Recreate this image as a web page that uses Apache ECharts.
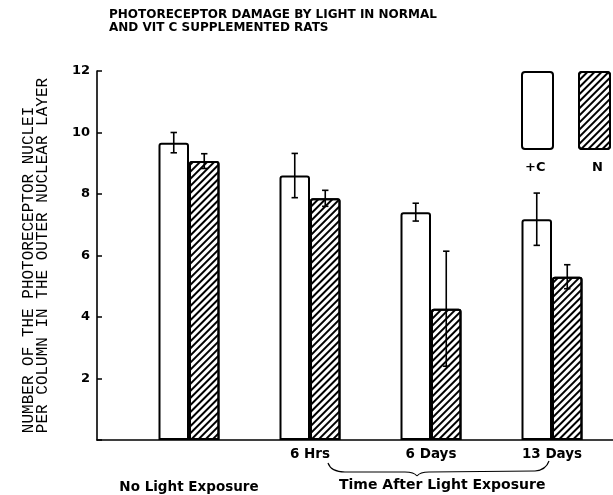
<!DOCTYPE html>
<html>
<head>
<meta charset="utf-8">
<script src="https://cdn.jsdelivr.net/npm/echarts@6/dist/echarts.min.js"></script>
<style>html,body{margin:0;padding:0;background:#fff;}#c{width:613px;height:495px;}</style>
</head>
<body>
<div id="c"></div>
<script>
const categories = ['No Light Exposure', '6 Hrs', '6 Days', '13 Days'];
const vitCMean = [9.67, 8.6, 7.41, 7.18];
const vitCErr = [0.33, 0.72, 0.29, 0.85];
const normalMean = [9.07, 7.86, 4.27, 5.31];
const normalErr = [0.24, 0.26, 1.87, 0.39];
const yTicks = [0, 2, 4, 6, 8, 10, 12];

const BAR_W = 30.5;
const FONT = 'DejaVu Sans';

const chart = echarts.init(document.getElementById('c'));

function errData(mean, err) {
  return mean.map((m, i) => [i, m - err[i], m + err[i]]);
}
function errSeries(mean, err, side) {
  return {
    type: 'custom',
    xAxisIndex: 1, yAxisIndex: 1,
    z: 5,
    silent: true,
    data: errData(mean, err),
    renderItem: function (params, api) {
      const base = api.coord([api.value(0), 0]);
      const x = base[0] + side * BAR_W / 2;
      const yl = api.coord([api.value(0), api.value(1)])[1];
      const yh = api.coord([api.value(0), api.value(2)])[1];
      const cap = 3.2;
      const st = { stroke: '#000', lineWidth: 1.6 };
      return {
        type: 'group',
        children: [
          { type: 'line', shape: { x1: x, y1: yl, x2: x, y2: yh }, style: st },
          { type: 'line', shape: { x1: x - cap, y1: yl, x2: x + cap, y2: yl }, style: st },
          { type: 'line', shape: { x1: x - cap, y1: yh, x2: x + cap, y2: yh }, style: st }
        ]
      };
    }
  };
}

const hatch = {
  symbol: 'rect',
  symbolSize: 1,
  color: '#000',
  dashArrayX: [1, 0],
  dashArrayY: [1.4, 2.2],
  rotation: -Math.PI / 4
};

const braceStyle = { stroke: '#000', lineWidth: 1.2, fill: null };
function curve(x1, y1, cx, cy, x2, y2) {
  return { type: 'bezierCurve', silent: true, shape: { x1: x1, y1: y1, cpx1: cx, cpy1: cy, x2: x2, y2: y2 }, style: braceStyle };
}
function seg(x1, y1, x2, y2) {
  return { type: 'line', silent: true, shape: { x1: x1, y1: y1, x2: x2, y2: y2 }, style: braceStyle };
}

const option = {
  backgroundColor: '#fff',
  animation: false,
  title: {
    text: 'PHOTORECEPTOR DAMAGE BY LIGHT IN NORMAL\nAND VIT C SUPPLEMENTED RATS',
    left: 109, top: 8, padding: 0,
    textStyle: { fontFamily: FONT, fontSize: 12, fontWeight: 'bold', color: '#000', lineHeight: 13 }
  },
  legend: {
    left: 521, top: 71, padding: 0,
    itemWidth: 31, itemHeight: 77, itemGap: 24,
    icon: 'path://M3,0 L28,0 Q31,0 31,3 L31,74 Q31,77 28,77 L3,77 Q0,77 0,74 L0,3 Q0,0 3,0 Z',
    formatter: function () { return ''; },
    selectedMode: false,
    data: [
      { name: '+C', itemStyle: { color: '#fff', borderColor: '#000', borderWidth: 2 } },
      { name: 'N', itemStyle: { color: '#fff', borderColor: '#000', borderWidth: 2, decal: hatch } }
    ]
  },
  grid: [
    { left: 97, right: 0, top: 71, bottom: 55 },
    { left: 128.5, width: 484, top: 71, bottom: 55 }
  ],
  xAxis: [
    {
      gridIndex: 0, type: 'value', min: 0, max: 1,
      axisLine: { show: true, lineStyle: { color: '#000', width: 1.6 } },
      axisTick: { show: false }, axisLabel: { show: false }, splitLine: { show: false }
    },
    {
      gridIndex: 1, type: 'category', data: categories,
      axisLine: { show: false }, axisTick: { show: false },
      axisLabel: {
        interval: 0, hideOverlap: false,
        margin: 7,
        fontFamily: FONT, fontSize: 13.5, fontWeight: 'bold', color: '#000',
        formatter: function (v, i) { return i === 0 ? '{low|' + v + '}' : v; },
        rich: { low: { padding: [33, 0, 0, 0], fontFamily: FONT, fontSize: 13.5, fontWeight: 'bold', color: '#000' } }
      }
    }
  ],
  yAxis: [
    {
      gridIndex: 0, type: 'value', min: yTicks[0], max: yTicks[yTicks.length - 1], interval: 2,
      axisLine: { show: true, lineStyle: { color: '#000', width: 1.6 } },
      axisTick: { show: true, inside: true, length: 5, lineStyle: { color: '#000', width: 1.5 } },
      splitLine: { show: false },
      axisLabel: {
        margin: 7, fontFamily: FONT, fontSize: 13, fontWeight: 'bold', color: '#000',
        formatter: function (v) { return v === 0 ? '' : String(v); }
      },
      name: 'NUMBER OF THE PHOTORECEPTOR NUCLEI   \nPER COLUMN IN THE OUTER NUCLEAR LAYER',
      nameLocation: 'middle', nameRotate: 90, nameGap: 47,
      nameTextStyle: { fontFamily: 'Liberation Mono', fontSize: 16, color: '#000', lineHeight: 14 }
    },
    {
      gridIndex: 1, type: 'value', min: 0, max: 12, show: false
    }
  ],
  graphic: [
    { type: 'text', left: 525, top: 161, style: { text: '+C', font: 'bold 13px "DejaVu Sans"', fill: '#000' } },
    { type: 'text', left: 592, top: 161, style: { text: 'N', font: 'bold 13px "DejaVu Sans"', fill: '#000' } },
    curve(328, 463, 331, 472, 345, 472),
    seg(345, 472, 405, 472),
    curve(405, 472, 414, 472, 417, 476),
    curve(417, 476, 420, 472, 429, 472),
    seg(429, 472, 535, 471),
    curve(535, 471, 546, 470, 549, 461),
    { type: 'text', left: 339, top: 478, style: { text: 'Time After Light Exposure', font: 'bold 14px "DejaVu Sans"', fill: '#000' } }
  ],
  series: [
    {
      name: '+C', type: 'bar', xAxisIndex: 1, yAxisIndex: 1,
      barWidth: BAR_W, barGap: '0%',
      data: vitCMean,
      itemStyle: { color: '#fff', borderColor: '#000', borderWidth: 2, borderRadius: [2, 2, 0, 0] }
    },
    {
      name: 'N', type: 'bar', xAxisIndex: 1, yAxisIndex: 1,
      barWidth: BAR_W, barGap: '0%',
      data: normalMean,
      itemStyle: { color: '#fff', borderColor: '#000', borderWidth: 2, borderRadius: [2, 2, 0, 0], decal: hatch }
    },
    errSeries(vitCMean, vitCErr, -1),
    errSeries(normalMean, normalErr, 1)
  ]
};
chart.setOption(option);
</script>
</body>
</html>
